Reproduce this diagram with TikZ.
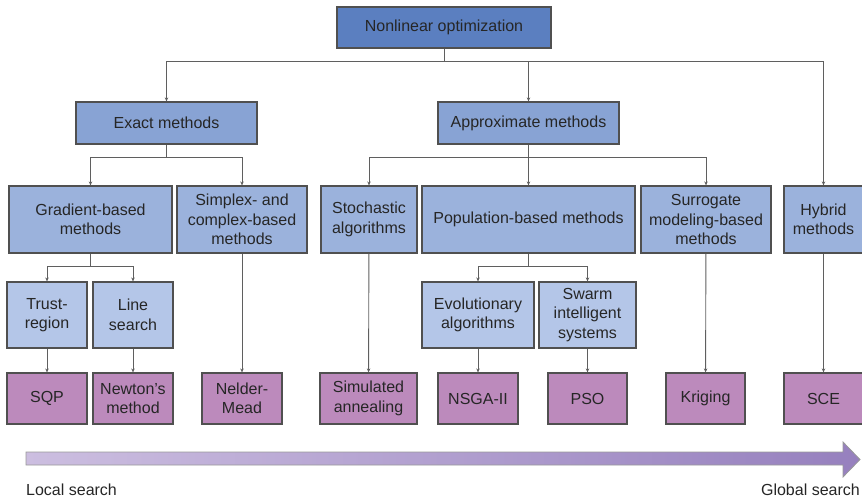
\documentclass[tikz,border=0pt]{standalone}
\usepackage{fontspec}
\setmainfont{Liberation Sans}
\usetikzlibrary{arrows.meta}

\definecolor{topblue}{RGB}{91,127,192}
\definecolor{midblue}{RGB}{136,163,212}
\definecolor{secblue}{RGB}{155,178,220}
\definecolor{subblue}{RGB}{180,198,232}
\definecolor{algomauve}{RGB}{188,138,188}
\definecolor{edgegray}{RGB}{80,80,80}
\definecolor{conngray}{RGB}{95,95,95}
\definecolor{barlight}{RGB}{204,190,224}
\definecolor{bardark}{RGB}{150,128,190}

\begin{document}
\begin{tikzpicture}[x=1pt,y=-1pt,
    every node/.style={font=\fontsize{16}{19.5}\selectfont, text=black!85, align=center, inner sep=0pt},
    box/.style={draw=edgegray, line width=1.2pt, rectangle},
    lvl0/.style={box, fill=topblue},
    lvl1/.style={box, fill=midblue},
    lvl2/.style={box, fill=secblue, minimum height=67pt},
    lvl3/.style={box, fill=subblue, minimum height=66pt},
    algo/.style={box, fill=algomauve, minimum height=51pt},
    conn/.style={draw=conngray, line width=0.9pt, -{Stealth[length=4pt,width=3.5pt]}},
    plain/.style={draw=conngray, line width=0.9pt},
    ]
  \useasboundingbox (0,0) rectangle (862,503);

  % root and first split
  \node[lvl0, minimum width=214pt, minimum height=41pt] (nonlin) at (444,27.5) {Nonlinear optimization};
  \node[lvl1, minimum width=181pt, minimum height=42pt] (exact) at (166.5,123) {Exact methods};
  \node[lvl1, minimum width=181pt, minimum height=42pt] (approx) at (528.5,123) {Approximate methods};

  % method families
  \node[lvl2, minimum width=163pt] (grad) at (90.5,219.5) {Gradient-based\\methods};
  \node[lvl2, minimum width=130pt] (simplex) at (242,219.5) {Simplex- and\\complex-based\\methods};
  \node[lvl2, minimum width=96pt] (stoch) at (369,219.5) {Stochastic\\algorithms};
  \node[lvl2, minimum width=213pt] (popul) at (528.5,219.5) {Population-based methods};
  \node[lvl2, minimum width=130pt] (surr) at (706,219.5) {Surrogate\\modeling-based\\methods};
  \node[lvl2, minimum width=79pt] (hybrid) at (823.5,219.5) {Hybrid\\methods};

  % sub families
  \node[lvl3, minimum width=80pt] (trust) at (47,315) {Trust-\\region};
  \node[lvl3, minimum width=80pt] (linesearch) at (133,315) {Line\\search};
  \node[lvl3, minimum width=112pt] (evol) at (478,315) {Evolutionary\\algorithms};
  \node[lvl3, minimum width=97pt] (swarm) at (587.5,315) {Swarm\\intelligent\\systems};

  % algorithms
  \node[algo, minimum width=80pt] (sqp) at (47,398.5) {SQP};
  \node[algo, minimum width=80pt] (newton) at (133,398.5) {Newton's\\method};
  \node[algo, minimum width=80pt] (nelder) at (242,398.5) {Nelder-\\Mead};
  \node[algo, minimum width=97pt] (simann) at (368.5,398.5) {Simulated\\annealing};
  \node[algo, minimum width=80pt] (nsga) at (478,398.5) {NSGA-II};
  \node[algo, minimum width=79pt] (pso) at (587.5,398.5) {PSO};
  \node[algo, minimum width=79pt] (kriging) at (705.5,398.5) {Kriging};
  \node[algo, minimum width=79pt] (sce) at (823.5,398.5) {SCE};

  % bus points
  \coordinate (bus0) at (444,61);
  \coordinate (bus1) at (166.5,157);
  \coordinate (bus2) at (528.5,157);
  \coordinate (bus3) at (90.5,266);
  \coordinate (bus4) at (528.5,266);

  \draw[plain] (nonlin) -- (bus0);
  \foreach \t in {exact,approx,hybrid}
    \draw[conn] (bus0) -| (\t.north);
  \draw[plain] (exact) -- (bus1);
  \foreach \t in {grad,simplex}
    \draw[conn] (bus1) -| (\t.north);
  \draw[plain] (approx) -- (bus2);
  \foreach \t in {stoch,popul,surr}
    \draw[conn] (bus2) -| (\t.north);
  \draw[plain] (grad) -- (bus3);
  \foreach \t in {trust,linesearch}
    \draw[conn] (bus3) -| (\t.north);
  \draw[plain] (popul) -- (bus4);
  \foreach \t in {evol,swarm}
    \draw[conn] (bus4) -| (\t.north);

  % down to the algorithms
  \foreach \a/\b in {trust/sqp,linesearch/newton,simplex/nelder,stoch/simann,evol/nsga,swarm/pso,surr/kriging,hybrid/sce}
    \draw[conn] (\a) -- (\b);

  % local to global arrow
  \shade[left color=barlight, right color=bardark, draw=gray!80, line width=0.8pt]
    (26,452) -- (843,452) -- (843,442) -- (860,459.5) -- (843,477) -- (843,465) -- (26,465) -- cycle;
  \node[anchor=west] (local) at (26,490) {Local search};
  \node[anchor=east] (global) at (860,490) {Global search};
\end{tikzpicture}
\end{document}
